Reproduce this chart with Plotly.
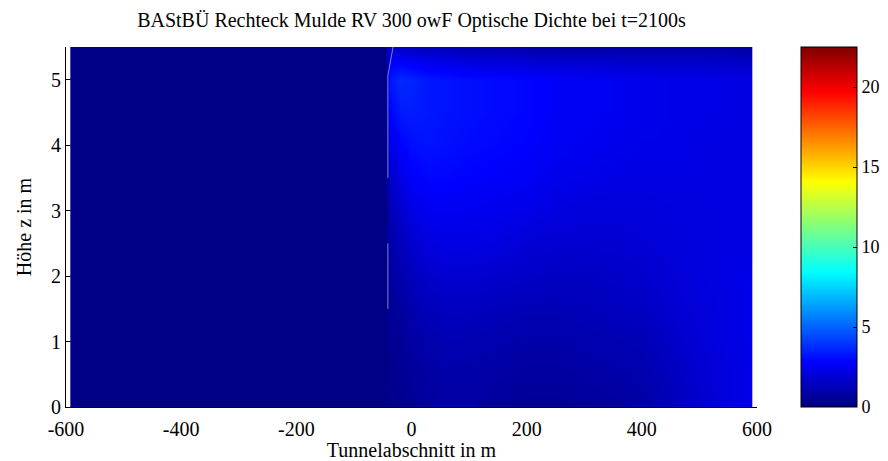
import numpy as np
import plotly.graph_objects as go

# ---- data ----
heights = [0.0, 0.5, 1.0, 1.5, 2.0, 2.5, 3.0, 3.5, 4.0, 4.5, 5.0, 5.3, 5.5]
positions = [-590, -585, -45, -38, -20, 0, 30, 60, 100, 150, 200, 250,
             300, 350, 400, 450, 500, 550, 585, 590]

c_m590 = [0.15] * 13
c_m585 = [0.15] * 13
c_m45 = [0.15] * 13
c_m38 = [0.3, 0.3, 0.4, 0.5, 0.7, 0.9, 1.2, 1.6, 2.2, 2.8, 3.3, 2.6, 1.6]
c_m20 = [0.3, 0.4, 0.5, 0.7, 1.0, 1.3, 1.7, 2.2, 2.8, 3.4, 3.7, 2.7, 1.5]
c_0 = [0.5, 0.6, 0.8, 1.0, 1.3, 1.7, 2.2, 2.7, 3.1, 3.4, 3.6, 2.5, 1.4]
c_30 = [0.7, 0.8, 1.0, 1.3, 1.7, 2.1, 2.5, 2.9, 3.2, 3.3, 3.3, 2.3, 1.3]
c_60 = [0.8, 0.9, 1.1, 1.4, 1.8, 2.2, 2.5, 2.9, 3.1, 3.2, 3.2, 2.2, 1.2]
c_100 = [0.8, 0.9, 1.1, 1.4, 1.8, 2.2, 2.5, 2.8, 3.0, 3.1, 3.1, 2.0, 1.1]
c_150 = [0.6, 0.8, 1.0, 1.3, 1.7, 2.1, 2.4, 2.7, 2.9, 3.0, 3.0, 1.9, 1.0]
c_200 = [0.5, 0.7, 0.9, 1.2, 1.6, 1.9, 2.3, 2.6, 2.8, 2.9, 2.9, 1.8, 0.9]
c_250 = [0.5, 0.7, 0.9, 1.2, 1.5, 1.8, 2.1, 2.4, 2.6, 2.7, 2.7, 1.7, 0.8]
c_300 = [0.6, 0.8, 1.0, 1.3, 1.5, 1.8, 2.0, 2.3, 2.5, 2.6, 2.6, 1.7, 0.8]
c_350 = [0.7, 0.9, 1.1, 1.4, 1.6, 1.8, 2.0, 2.2, 2.4, 2.5, 2.5, 1.6, 0.8]
c_400 = [0.8, 1.0, 1.2, 1.5, 1.7, 1.9, 2.0, 2.2, 2.3, 2.4, 2.4, 1.6, 0.8]
c_450 = [1.2, 1.4, 1.6, 1.8, 1.9, 2.0, 2.1, 2.2, 2.3, 2.3, 2.3, 1.6, 0.8]
c_500 = [1.7, 1.8, 1.9, 2.0, 2.1, 2.1, 2.1, 2.2, 2.2, 2.3, 2.3, 1.6, 0.8]
c_550 = [2.1, 2.1, 2.2, 2.2, 2.2, 2.2, 2.2, 2.2, 2.2, 2.2, 2.2, 1.5, 0.8]
c_585 = [2.3, 2.3, 2.3, 2.3, 2.3, 2.2, 2.2, 2.2, 2.2, 2.2, 2.2, 1.5, 0.8]
c_590 = [2.3, 2.3, 2.3, 2.3, 2.3, 2.2, 2.2, 2.2, 2.2, 2.2, 2.2, 1.5, 0.8]

edge_x = [-32, -41, -41, None, -41, -41]
edge_y = [5.5, 5.06, 3.5, None, 2.5, 1.5]

x_ticks = [-600, -400, -200, 0, 200, 400, 600]
x_tick_labels = ["-600", "-400", "-200", "0", "200", "400", "600"]
y_ticks = [0, 1, 2, 3, 4, 5]
cb_ticks = [0, 5, 10, 15, 20]

columns = [c_m590, c_m585, c_m45, c_m38, c_m20, c_0, c_30, c_60, c_100,
           c_150, c_200, c_250, c_300, c_350, c_400, c_450, c_500, c_550,
           c_585, c_590]
z = np.array(columns).T

jet = [[0.0, "rgb(0,0,128)"], [0.125, "rgb(0,0,255)"], [0.375, "rgb(0,255,255)"],
       [0.625, "rgb(255,255,0)"], [0.875, "rgb(255,0,0)"], [1.0, "rgb(128,0,0)"]]

FONT = "Liberation Serif, Times New Roman, serif"

# page body has an 8px default margin; the figure is sized to fit the window
OFF = 8
W, H = 888 - OFF, 461 - OFF
L, R, T, B = 66 - OFF, 131, 47 - OFF, 54
plot_w = W - L - R

fig = go.Figure()
fig.add_trace(go.Heatmap(
    x=positions, y=heights, z=z, zsmooth="best",
    colorscale=jet, zmin=0, zmax=22.5,
    colorbar=dict(
        x=(801 - 66) / plot_w, xanchor="left", xref="paper", thickness=56,
        thicknessmode="pixels",
        len=1, lenmode="fraction", y=0.5, yanchor="middle", xpad=0, ypad=0,
        outlinewidth=1, outlinecolor="black",
        tickvals=cb_ticks, ticks="inside", ticklen=4, tickcolor="black",
        tickfont=dict(family=FONT, size=18, color="black"),
    ),
    hoverinfo="skip",
))
fig.add_trace(go.Scatter(
    x=edge_x, y=edge_y, mode="lines",
    line=dict(color="rgba(170,170,215,0.75)", width=1),
    showlegend=False, hoverinfo="skip",
))

fig.update_layout(
    width=W, height=H,
    margin=dict(l=L, r=R, t=T, b=B, autoexpand=False),
    paper_bgcolor="white", plot_bgcolor="white",
    font=dict(family=FONT, size=20, color="black"),
    title=dict(text="BAStBÜ Rechteck Mulde RV 300 owF Optische Dichte bei t=2100s",
               x=(L + W - R) / 2 / W, xanchor="center", xref="container",
               y=1 - 12 / H, yanchor="middle", yref="container",
               font=dict(family=FONT, size=20, color="black"), automargin=False),
    showlegend=False,
)
fig.update_xaxes(
    range=[-600, 600], tickvals=x_ticks, ticktext=x_tick_labels,
    ticks="inside", ticklen=5, tickcolor="black", ticklabelstandoff=4,
    showline=True, linecolor="black", linewidth=1, showgrid=False, zeroline=False,
    layer="below traces", automargin=False,
    title=dict(text="Tunnelabschnitt in m", standoff=4, font=dict(family=FONT, size=20)),
    tickfont=dict(family=FONT, size=20),
)
fig.update_yaxes(
    range=[0, 5.5], tickvals=y_ticks, ticks="inside", ticklen=5, tickcolor="black",
    showline=True, linecolor="black", linewidth=1, showgrid=False, zeroline=False,
    layer="below traces", automargin=False,
    title=dict(text="Höhe z in m", standoff=14, font=dict(family=FONT, size=20)),
    tickfont=dict(family=FONT, size=20),
)

fig.write_html("out.html")
